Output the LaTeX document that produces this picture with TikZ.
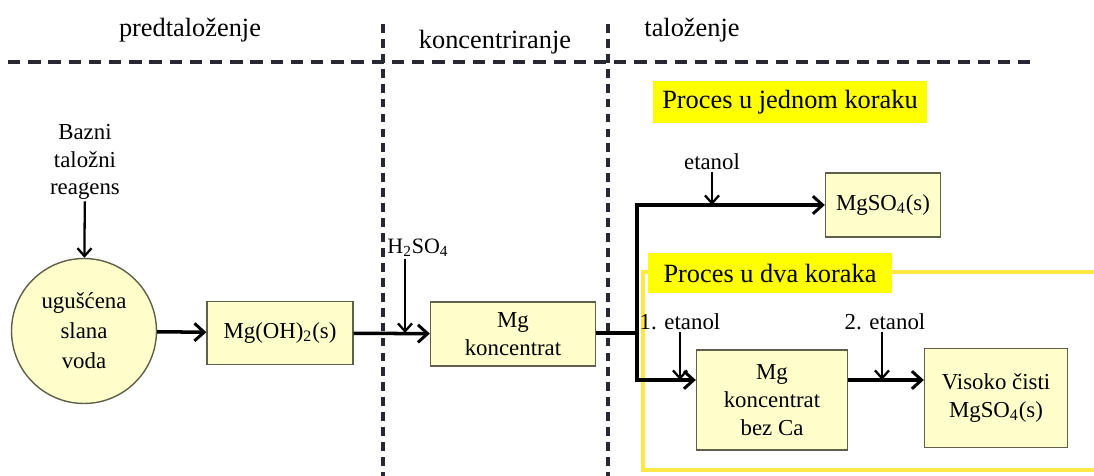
\documentclass[tikz,border=0pt]{standalone}
\usepackage{fontspec}
\setmainfont{Liberation Serif}
\usetikzlibrary{arrows.meta}
\definecolor{boxfill}{RGB}{255,255,204}
\definecolor{boxline}{RGB}{95,95,75}
\definecolor{hilite}{RGB}{255,255,0}
\definecolor{frameyellow}{RGB}{255,232,70}
\definecolor{dashgray}{RGB}{40,40,50}

\begin{document}
\begin{tikzpicture}[x=0.02cm,y=-0.02cm,
  box node/.style={rectangle,fill=boxfill,draw=boxline,line width=0.8pt,align=center,
    inner sep=0pt,font=\fontsize{13}{16}\selectfont},
  head node/.style={font=\fontsize{15}{18}\selectfont},
  tag node/.style={fill=hilite,inner sep=0pt,font=\fontsize{15}{18}\selectfont},
  small node/.style={align=center,inner sep=1pt,font=\fontsize{13}{15.5}\selectfont},
  flow/.style={-{Straight Barb[length=5.5pt,width=10pt,line width=1.7pt]},line width=2pt},
  feed/.style={-{Straight Barb[length=4.5pt,width=8pt,line width=1.3pt]},line width=1.3pt},
  hsep/.style={dashgray,line width=1.8pt,dash pattern=on 7pt off 4.5pt},
  vsep/.style={dashgray,line width=1.8pt,dash pattern=on 5pt off 3.5pt}]

  \useasboundingbox (0,0) rectangle (1094,476);

  % stage headers and separators
  \node[head node] (pre) at (190,30) {predtaloženje};
  \node[head node] (konc) at (495,42) {koncentriranje};
  \node[head node] (tal) at (692,30) {taloženje};
  \draw[hsep] (8,62) -- (1030,62);
  \draw[vsep] (383,24) -- (383,476);
  \draw[vsep] (608,24) -- (608,476);

  % two-step frame
  \draw[frameyellow,line width=2pt] (1094,272) -- (643,272) -- (643,470) -- (1094,470);

  \node[tag node,minimum width=5.5cm,minimum height=0.86cm] (tag1) at (790,102) {Proces u jednom koraku};
  \node[tag node,minimum width=4.9cm,minimum height=0.8cm] (tag2) at (770,273) {Proces u dva koraka};

  \node[circle,fill=boxfill,draw=boxline,line width=0.8pt,minimum size=2.9cm,inner sep=0pt,
    align=center,font=\fontsize{13}{17}\selectfont] (brine) at (84,331) {ugušćena\\slana\\voda};
  \node[box node,minimum width=2.92cm,minimum height=1.26cm] (mgoh) at (280,333) {Mg(OH)\textsubscript{2}(s)};
  \node[box node,minimum width=3.3cm,minimum height=1.28cm] (mgk) at (513,334) {Mg\\koncentrat};
  \node[box node,minimum width=2.3cm,minimum height=1.28cm] (mgso) at (883,205) {MgSO\textsubscript{4}(s)};
  \node[box node,minimum width=3.02cm,minimum height=2cm] (mgca) at (772,400) {Mg\\koncentrat\\bez Ca};
  \node[box node,minimum width=2.86cm,minimum height=1.98cm] (pure) at (996,398) {Visoko čisti\\MgSO\textsubscript{4}(s)};

  \node[small node] (base) at (85,162) {Bazni\\taložni\\reagens};
  \node[small node,font=\fontsize{12.5}{15}\selectfont] (acid) at (418,248) {H\textsubscript{2}SO\textsubscript{4}};
  \node[small node] (et) at (712,162) {etanol};
  \node[small node] (et1) at (680,322) {1. etanol};
  \node[small node] (et2) at (885,322) {2. etanol};

  \coordinate (m0) at (405,333);
  \coordinate (j0) at (637,333);
  \coordinate (j2) at (637,380);
  \coordinate (m1) at (712,205);
  \coordinate (m2) at (680,380);
  \coordinate (m3) at (882,380);

  \draw[feed] (base) -- (brine);
  \draw[flow] (brine) -- (mgoh);
  \draw[flow] (mgoh) -- (mgk);
  \draw[feed] (acid.south -| m0) -- (m0);
  \draw[line width=2pt] (mgk.east |- j0) -- (j0);
  \draw[flow] (j0) |- (mgso);
  \draw[flow] (j0) |- (mgca.west |- j2);
  \draw[flow] (mgca.east |- j2) -- (pure.west |- j2);
  \draw[feed] (et) -- (m1);
  \draw[feed] (et1.south -| m2) -- (m2);
  \draw[feed] (et2.south -| m3) -- (m3);

\end{tikzpicture}
\end{document}
